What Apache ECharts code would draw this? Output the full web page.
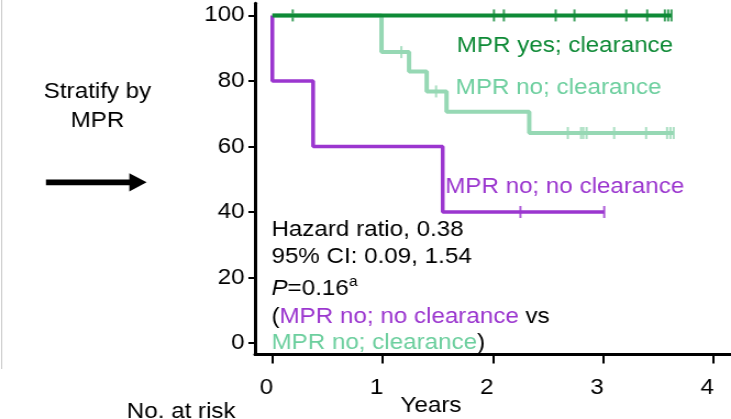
<!DOCTYPE html>
<html>
<head>
<meta charset="utf-8">
<title>Stratify by MPR</title>
<script src="https://cdn.jsdelivr.net/npm/echarts@6/dist/echarts.min.js"></script>
<style>
  html, body { margin: 0; padding: 0; background: #fff; overflow: hidden; }
  #wrap { width: 731px; height: 419px; overflow: hidden; position: relative; }
  /* the figure is laid out on a 665px canvas and widened to 731px */
  #chart { width: 665px; height: 419px; transform-origin: 0 0; transform: scaleX(1.09925); }
</style>
</head>
<body>
<div id="wrap"><div id="chart"></div></div>
<script>
// Axis ticks
const xTicks = [0, 1, 2, 3, 4];
const yTicks = [0, 20, 40, 60, 80, 100];

// MPR yes; clearance — no events
const yesTimes = [0];
const yesSurv = [100];
const yesCensor = [0.185, 2.01, 2.10, 2.57, 2.74, 3.21, 3.40, 3.56, 3.59, 3.62];

// MPR no; clearance
const noClrTimes = [0, 0.99, 1.24, 1.40, 1.58, 2.33];
const noClrSurv = [100, 88.8, 82.9, 76.8, 70.6, 64.1];
const noClrCensor = [1.17, 1.485, 2.68, 2.80, 2.82, 2.85, 3.10, 3.39, 3.58, 3.61, 3.64];

// MPR no; no clearance
const noNoTimes = [0, 0, 0.37, 1.545];
const noNoSurv = [100, 80, 60, 40];
const noNoCensor = [2.25, 3.01];

const C_YES = '#0e8a36';
const C_CLR_LINE = '#96d8b4';
const C_CLR_TEXT = '#6ccf9e';
const C_NONO = '#9b36cf';
const FONT = '"Liberation Sans", Arial, Helvetica, sans-serif';

// survival value in effect at time t (right-continuous step)
function stepAt(times, surv, t) {
  let v = surv[0];
  for (let i = 0; i < times.length; i++) if (times[i] <= t) v = surv[i];
  return v;
}
function curve(times, surv, censor) {
  const pts = times.map((t, i) => [t, surv[i]]);
  const end = Math.max(...censor);
  pts.push([end, stepAt(times, surv, end)]);
  return pts;
}
function marks(times, surv, censor) {
  return censor.map(t => [t, stepAt(times, surv, t)]);
}

function kmSeries(name, times, surv, censor, color, width) {
  return [
    {
      name: name, type: 'line', step: 'end', symbol: 'none',
      data: curve(times, surv, censor),
      lineStyle: { color: color, width: width }, silent: true, animation: false
    },
    {
      name: name + ' censored', type: 'scatter', symbol: 'rect', symbolSize: [2, 12],
      data: marks(times, surv, censor),
      itemStyle: { color: color }, silent: true, animation: false
    }
  ];
}

function txt(text, x, y, fill, extra) {
  return {
    type: 'text', x: x, y: y, silent: true,
    style: Object.assign({
      text: text, fill: fill, font: '22px ' + FONT,
      align: 'left', verticalAlign: 'middle',
      textAlign: 'left', textVerticalAlign: 'middle'
    }, extra || {})
  };
}

const chart = echarts.init(document.getElementById('chart'), null, { renderer: 'canvas' });

chart.setOption({
  backgroundColor: '#fff',
  animation: false,
  grid: { left: 232, right: 0, top: 3.3, bottom: 64.5, containLabel: false },
  xAxis: {
    type: 'value', min: -0.157, max: 4.16,
    splitLine: { show: false },
    axisLine: { show: true, onZero: false, lineStyle: { color: '#000', width: 3 } },
    axisTick: { show: true, customValues: xTicks, length: 9, lineStyle: { color: '#000', width: 2 } },
    axisLabel: {
      customValues: xTicks, color: '#000', fontSize: 22, fontFamily: FONT,
      margin: 22.5, padding: [0, 11, 0, 0]
    }
  },
  yAxis: {
    type: 'value', min: -3.5, max: 103.7,
    splitLine: { show: false },
    axisLine: { show: true, onZero: false, lineStyle: { color: '#000', width: 3 } },
    axisTick: { show: true, customValues: yTicks, length: 6, lineStyle: { color: '#000', width: 2 } },
    axisLabel: { customValues: yTicks, color: '#000', fontSize: 22, fontFamily: FONT, margin: 9.5 }
  },
  series: [].concat(
    kmSeries('MPR no; clearance', noClrTimes, noClrSurv, noClrCensor, C_CLR_LINE, 4),
    kmSeries('MPR no; no clearance', noNoTimes, noNoSurv, noNoCensor, C_NONO, 3.5),
    kmSeries('MPR yes; clearance', yesTimes, yesSurv, yesCensor, C_YES, 4)
  ),
  graphic: {
    elements: [
      // left panel rule
      { type: 'line', silent: true, shape: { x1: 1.5, y1: 0, x2: 1.5, y2: 369 },
        style: { stroke: '#c8c8c8', lineWidth: 1 } },
      txt('Stratify by', 88.7, 92.3, '#000', { align: 'center', textAlign: 'center' }),
      txt('MPR', 88.7, 121.2, '#000', { align: 'center', textAlign: 'center' }),
      // arrow
      { type: 'rect', silent: true, shape: { x: 41.8, y: 179.4, width: 77, height: 5.8 },
        style: { fill: '#000' } },
      { type: 'polygon', silent: true,
        shape: { points: [[117.6, 173.3], [133.4, 182.3], [117.6, 191.4]] },
        style: { fill: '#000' } },
      // curve labels
      txt('MPR yes; clearance', 415.5, 46, C_YES),
      txt('MPR no; clearance', 414.6, 87.5, C_CLR_TEXT),
      txt('MPR no; no clearance', 404.9, 187, C_NONO),
      // statistics block
      txt('Hazard ratio, 0.38', 246.9, 229.7, '#000'),
      txt('95% CI: 0.09, 1.54', 246.9, 257.3, '#000'),
      txt('{i|P}=0.16', 246.9, 288.6, '#000', {
        rich: { i: { fill: '#000', font: 'italic 22px ' + FONT } }
      }),
      txt('a', 317.6, 282.4, '#000', { font: '14px ' + FONT }),
      txt('({p|MPR no; no clearance} vs', 246.9, 316.7, '#000', {
        rich: { p: { fill: C_NONO, font: '22px ' + FONT } }
      }),
      txt('{g|MPR no; clearance})', 246.9, 343.3, '#000', {
        rich: { g: { fill: C_CLR_TEXT, font: '22px ' + FONT } }
      }),
      // axis title and risk table heading
      txt('Years', 392.1, 405.5, '#000', { align: 'center', textAlign: 'center' }),
      txt('No. at risk', 115.3, 412, '#000')
    ]
  }
});
</script>
</body>
</html>
